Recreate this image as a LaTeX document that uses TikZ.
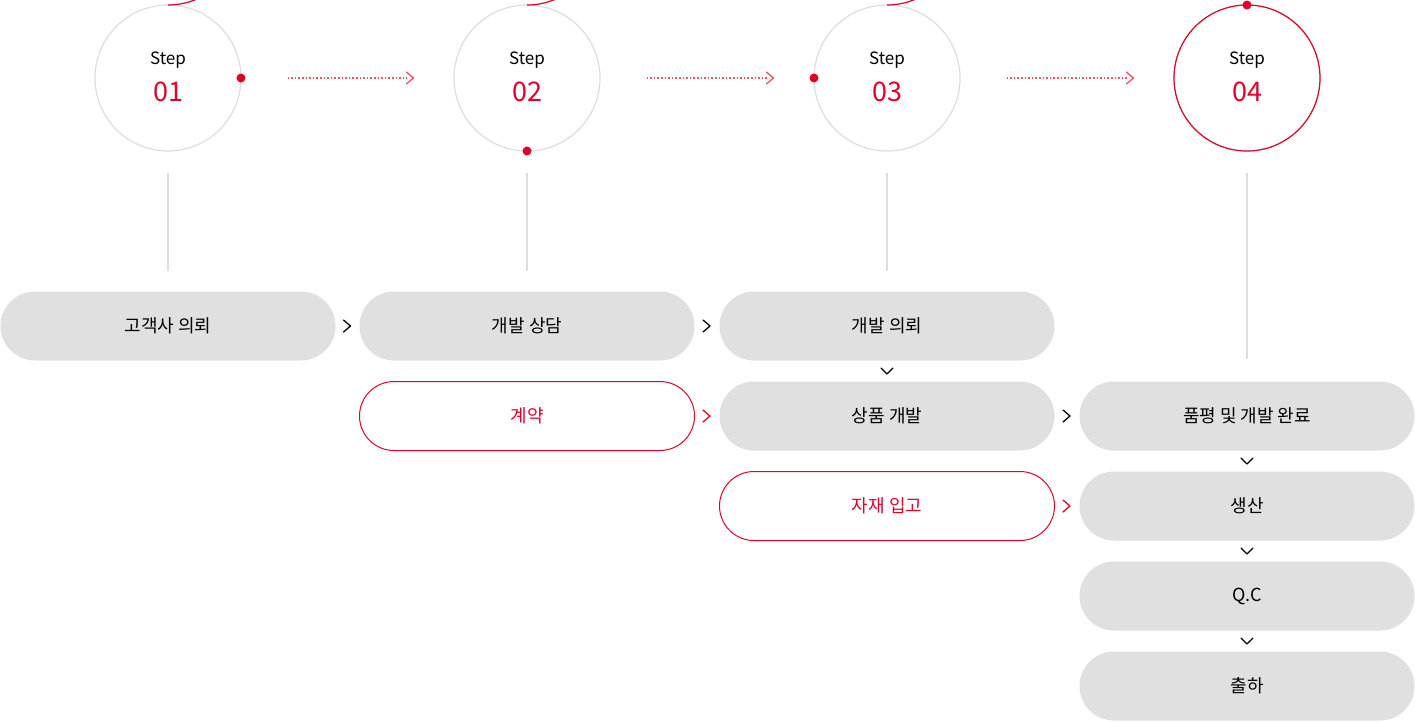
\documentclass[tikz,border=0pt]{standalone}
\usepackage{fontspec}
\setmainfont{Noto Sans CJK KR}
\usetikzlibrary{positioning,calc}
\definecolor{accent}{RGB}{224,0,42}
\definecolor{pillgrey}{RGB}{224,224,224}
\definecolor{ringgrey}{RGB}{221,221,221}
\definecolor{dotpink}{RGB}{238,80,100}
\tikzset{every picture/.style={line width=1.2pt},
  pill/.style={rounded corners=34.5pt,minimum width=335pt,minimum height=69pt,inner sep=0pt,font=\fontsize{18}{20}\selectfont},
  greypill/.style={pill,fill=pillgrey},
  redpill/.style={pill,draw=accent,text=accent,line width=1pt},
  ring/.style={circle,draw=ringgrey,minimum size=146pt,inner sep=0pt},
  chev/.style={line width=1.3pt,line cap=round,line join=round}}
\newcommand{\chevright}[2]{\draw[chev,#2] ($#1+(-4,-6)$) -- ($#1+(3,0)$) -- ($#1+(-4,6)$);}
\newcommand{\chevdown}[2]{\draw[chev,#2] ($#1+(-6,-3)$) -- ($#1+(0,3)$) -- ($#1+(6,-3)$);}

\begin{document}
\begin{tikzpicture}[x=1pt,y=1pt,yscale=-1]
\useasboundingbox (0,0) rectangle (1415,721);

%Step circles
\foreach \i/\x in {1/168,2/527,3/887,4/1247}{
  \node[ring] (c\i) at (\x,78) {};
  \node[font=\fontsize{17}{18}\selectfont] at (\x,60) {Step};
  \node[font=\fontsize{27}{28}\selectfont,text=accent] at (\x,92) {0\i};
}
%red progress arcs
\draw[accent] (168,5) arc (90:0:73);
\fill[accent] (241,78) circle (4.5);
\draw[accent] (527,5) arc (90:-90:73);
\fill[accent] (527,151) circle (4.5);
\draw[accent] (887,5) arc (90:-180:73);
\fill[accent] (814,78) circle (4.5);
\draw[accent] (1247,78) circle (73);
\fill[accent] (1247,5) circle (4.5);

%dotted arrows
\foreach \a/\b in {1/2,2/3,3/4}{
  \draw[dotpink,dotted,line width=1.6pt] ($(c\a.east)+(46,0)$) -- ($(c\b.west)+(-46,0)$);
  \chevright{($(c\b.west)+(-43,0)$)}{dotpink}
}

%pills
\node[greypill] (p1) at (168,326) {고객사 의뢰};
\node[greypill] (p2) at (527,326) {개발 상담};
\node[greypill] (p3) at (887,326) {개발 의뢰};
\node[redpill] (contract) at (527,416) {계약};
\node[greypill] (dev) at (887,416) {상품 개발};
\node[greypill] (done) at (1247,416) {품평 및 개발 완료};
\node[redpill] (material) at (887,506) {자재 입고};
\node[greypill] (prod) at (1247,506) {생산};
\node[greypill] (qc) at (1247,596) {Q.C};
\node[greypill] (ship) at (1247,686) {출하};

%vertical lines
\foreach \i/\p in {1/p1,2/p2,3/p3}
  \draw[ringgrey] ($(c\i.south)+(0,21)$) -- ($(\p.north)+(0,-20)$);
\draw[ringgrey] ($(c4.south)+(0,21)$) -- ($(done.north)+(0,-22)$);

%chevrons
\chevright{($(p1.east)!0.5!(p2.west)$)}{black}
\chevright{($(p2.east)!0.5!(p3.west)$)}{black}
\chevright{($(contract.east)!0.5!(dev.west)$)}{accent}
\chevright{($(dev.east)!0.5!(done.west)$)}{black}
\chevright{($(material.east)!0.5!(prod.west)$)}{accent}
\chevdown{($(p3.south)!0.5!(dev.north)$)}{black}
\chevdown{($(done.south)!0.5!(prod.north)$)}{black}
\chevdown{($(prod.south)!0.5!(qc.north)$)}{black}
\chevdown{($(qc.south)!0.5!(ship.north)$)}{black}
\end{tikzpicture}
\end{document}
